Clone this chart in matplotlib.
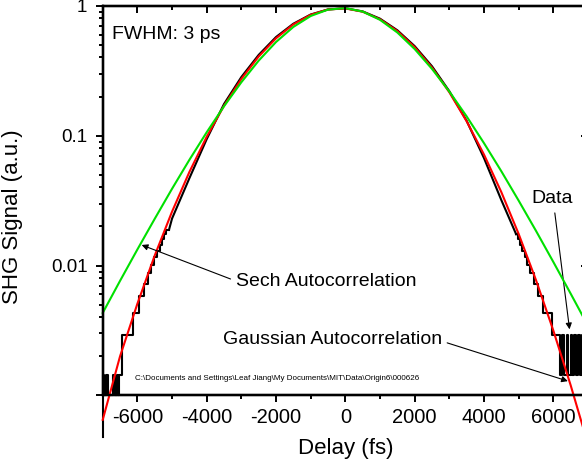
import matplotlib
matplotlib.use('Agg')
import matplotlib.pyplot as plt
from matplotlib.ticker import (MultipleLocator, FixedLocator, FixedFormatter,
                               LogLocator, NullFormatter)

plt.rcParams['font.family'] = ['Liberation Sans', 'DejaVu Sans']
plt.rcParams['axes.unicode_minus'] = False

# model curves sampled every 500 fs
fit_delay = [-7000, -6500, -6000, -5500, -5000, -4500, -4000, -3500, -3000, -2500,
             -2000, -1500, -1000, -500, 0, 500, 1000, 1500, 2000, 2500,
             3000, 3500, 4000, 4500, 5000, 5500, 6000, 6500, 7000]
gauss_fit = [0.00065, 0.002004, 0.005082, 0.01194, 0.0260, 0.05248, 0.09806, 0.1700,
             0.2732, 0.4067, 0.5613, 0.7178, 0.8511, 0.9354, 0.9525, 0.8991, 0.7864,
             0.6377, 0.4794, 0.3339, 0.2156, 0.1289, 0.07149, 0.03674, 0.01750,
             0.007727, 0.003162, 0.001199, 0.000422]
sech_fit = [0.00432, 0.00763, 0.0133, 0.0229, 0.0390, 0.0651, 0.1062, 0.1684, 0.2578,
            0.3780, 0.5257, 0.6866, 0.8334, 0.9333, 0.9583, 0.9014, 0.7785, 0.6220,
            0.4639, 0.3262, 0.2184, 0.1405, 0.0875, 0.0532, 0.0316, 0.0185, 0.01066,
            0.00608, 0.00344]

# measured trace: smooth middle part
data_delay = [-5088, -5000, -4500, -4000, -3500, -3000, -2500, -2000, -1500, -1000,
              -500, 0, 500, 1000, 1500, 2000, 2500, 3000, 3500, 4000, 4500, 4928]
data_signal = [0.01885, 0.0230, 0.0470, 0.0940, 0.1753, 0.2827, 0.4185, 0.5741,
               0.7270, 0.8557, 0.936, 0.955, 0.904, 0.7946, 0.6471, 0.4886, 0.3418,
               0.2196, 0.1300, 0.0671, 0.0319, 0.0174]

# measured trace: digitised wings (level starts at each delay)
left_delay = [-7000, -7000, -6960, -6900, -6840, -6700, -6650, -6600, -6560, -6520,
              -6450, -6120, -5950, -5808, -5692, -5593, -5507, -5430, -5361, -5299,
              -5241, -5188, -5138, -5088]
left_signal = [0.00048, 0.00145, 0.00101, 0.00145, 0.00101, 0.00145, 0.00101, 0.00145,
               0.00101, 0.00145, 0.0029, 0.00435, 0.0058, 0.00725, 0.0087, 0.01015,
               0.0116, 0.01305, 0.0145, 0.01595, 0.0174, 0.01885, 0.01885, 0.01885]
right_delay = [4928, 4981, 5039, 5101, 5170, 5247, 5333, 5432, 5548, 5690, 5950,
               6200, 6260, 6300, 6380, 6420, 6500, 6540, 6600, 6650, 6720, 6760,
               6840, 6880, 6940, 7000]
right_signal = [0.0174, 0.01595, 0.0145, 0.01305, 0.0116, 0.01015, 0.0087, 0.00725,
                0.0058, 0.00435, 0.0029, 0.00145, 0.0029, 0.00145, 0.0029, 0.00145,
                0.0029, 0.00145, 0.0029, 0.00145, 0.0029, 0.00145, 0.0029, 0.00145,
                0.0029, 0.0029]

fig = plt.figure(figsize=(5.82, 4.72), dpi=100)
ax = fig.add_axes([0.1765, 0.1621, 0.8338, 0.8258])

# data first, then the two fits on top
for xs, ys, st in [(left_delay, left_signal, 'steps-post'),
                   (data_delay, data_signal, 'default'),
                   (right_delay, right_signal, 'steps-post')]:
    ax.plot(xs, ys, color='black', lw=1.5, drawstyle=st, clip_on=False, zorder=2)
ax.plot(fit_delay, gauss_fit, color='#ff0000', lw=1.5, clip_on=False, zorder=3)
ax.plot(fit_delay, sech_fit, color='#00e000', lw=1.5, clip_on=False, zorder=4)

ax.set_yscale('log')
ax.set_xlim(-7000, 7000)
ax.set_ylim(0.001, 1)

ax.xaxis.set_major_locator(MultipleLocator(2000))
ax.xaxis.set_minor_locator(MultipleLocator(1000))
ax.yaxis.set_major_locator(FixedLocator([0.001, 0.01, 0.1, 1]))
ax.yaxis.set_major_formatter(FixedFormatter(['', '0.01', '0.1', '1']))
ax.yaxis.set_minor_locator(LogLocator(base=10, subs=range(2, 10)))
ax.yaxis.set_minor_formatter(NullFormatter())

ax.tick_params(which='major', direction='out', length=5, width=1.4)
ax.tick_params(which='minor', direction='out', length=3, width=1.4)
ax.tick_params(axis='x', labelsize=14.5, pad=4)
ax.tick_params(axis='y', labelsize=13.5, pad=6)
for s in ax.spines.values():
    s.set_linewidth(1.6)

# inward ticks on top and right
top = ax.twiny()
top.set_xlim(ax.get_xlim())
top.xaxis.set_major_locator(MultipleLocator(2000))
top.xaxis.set_minor_locator(MultipleLocator(1000))
top.tick_params(which='major', direction='in', length=5, width=1.4, labeltop=False)
top.tick_params(which='minor', direction='in', length=3, width=1.4)
right = ax.twinx()
right.set_yscale('log')
right.set_ylim(ax.get_ylim())
right.yaxis.set_major_locator(FixedLocator([0.001, 0.01, 0.1, 1]))
right.yaxis.set_minor_locator(LogLocator(base=10, subs=range(2, 10)))
right.yaxis.set_minor_formatter(NullFormatter())
right.tick_params(which='major', direction='in', length=5, width=1.4, labelright=False)
right.tick_params(which='minor', direction='in', length=3, width=1.4)
for a in (top, right):
    for s in a.spines.values():
        s.set_linewidth(1.6)

ax.set_xlabel('Delay (fs)', fontsize=16, labelpad=8)
ax.set_ylabel('SHG Signal (a.u.)', fontsize=16)
ax.yaxis.set_label_coords(-0.165, 0.458)

ax.text(-6732, 0.60, 'FWHM: 3 ps', fontsize=14, ha='left', va='center')

arrow = dict(arrowstyle='-|>', color='black', lw=0.8, mutation_scale=9,
             shrinkA=2, shrinkB=0)
ax.annotate('Sech Autocorrelation', xy=(-5876, 0.0144), xytext=(-3158, 0.0076),
            fontsize=14, ha='left', va='center',
            arrowprops=dict(arrow, relpos=(0, 0.5)))
ax.annotate('Gaussian Autocorrelation', xy=(6419, 0.00129), xytext=(-3541, 0.0027),
            fontsize=14, ha='left', va='center',
            arrowprops=dict(arrow, relpos=(1, 0.4)))
ax.annotate('Data', xy=(6468, 0.00323), xytext=(5364, 0.0326),
            fontsize=14, ha='left', va='center',
            arrowprops=dict(arrow, relpos=(0.55, 0)))

ax.text(-6069, 0.00135,
        'C:\\Documents and Settings\\Leaf Jiang\\My Documents\\MIT\\Data\\Origin6\\000626',
        fontsize=5.75, ha='left', va='center')

fig.savefig('out.png', dpi=100)
